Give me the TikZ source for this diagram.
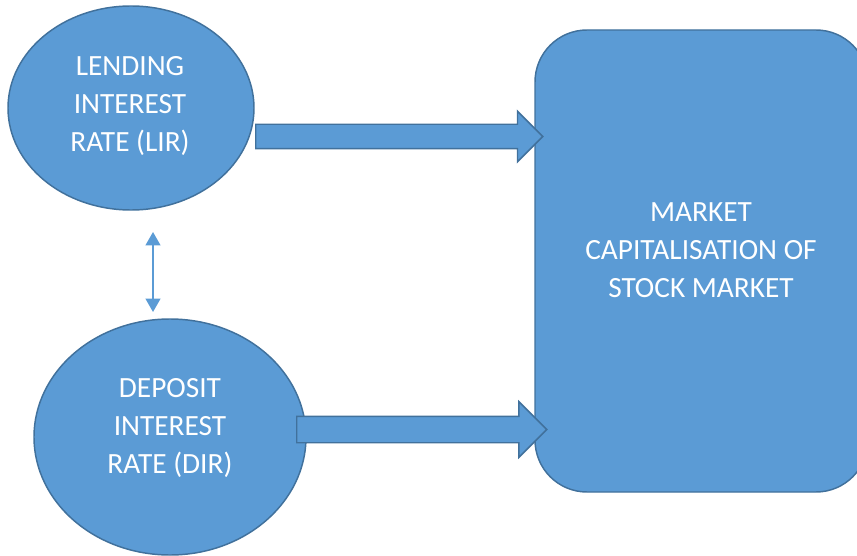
\documentclass[tikz,border=0pt]{standalone}
\usepackage{fontspec}
\setmainfont{Carlito}
\usetikzlibrary{shapes.geometric, shapes.arrows, arrows.meta}
\definecolor{boxblue}{HTML}{5B9BD5}
\definecolor{edgeblue}{HTML}{41719C}
\begin{document}
\begin{tikzpicture}[x=0.75pt, y=-0.75pt,
  rate node/.style={ellipse, draw=edgeblue, fill=boxblue, line width=1.1pt,
                        inner sep=0pt},
  label text/.style={text=white, align=center, inner sep=0pt,
                        font=\fontsize{22pt}{28.5pt}\selectfont},
  fat arrow/.style={single arrow, draw=edgeblue, fill=boxblue, line width=1.1pt,
                        inner xsep=0pt, single arrow head indent=0pt, anchor=tail}]
\useasboundingbox (0,0) rectangle (857,556);
\clip (0,0) rectangle (857,556);

\node[rate node, minimum width=184.5pt, minimum height=153pt](lir) at (131,108) {};
\node[label text](lirtext) at (130,106.4) {LENDING\\INTEREST\\RATE (LIR)};
\node[rate node, minimum width=204pt, minimum height=177pt](dir) at (170,437) {};
\node[label text](dirtext) at (170,428.4) {DEPOSIT\\INTEREST\\RATE (DIR)};
\node[rectangle, rounded corners=39pt, draw=edgeblue, fill=boxblue, line width=1.1pt,
                        minimum width=249.75pt, minimum height=346.5pt](mcap) at (701.5,261) {};
\node[label text](mcaptext) at (701,250.4) {MARKET\\CAPITALISATION OF\\STOCK MARKET};

\node[fat arrow, inner ysep=8.625pt, single arrow head extend=9.75pt,
                        minimum height=215.25pt](a1) at (255,136.5) {};
\node[fat arrow, inner ysep=9.375pt, single arrow head extend=10.9pt,
                        minimum height=187.5pt](a2) at (296,429.5) {};

\coordinate (up) at (153,232);
\coordinate (down) at (153,312);
\draw[boxblue, line width=1.5pt, {Triangle[width=11pt,length=10pt]}-{Triangle[width=11pt,length=10pt]}]
  (up) -- (down);

\end{tikzpicture}
\end{document}
